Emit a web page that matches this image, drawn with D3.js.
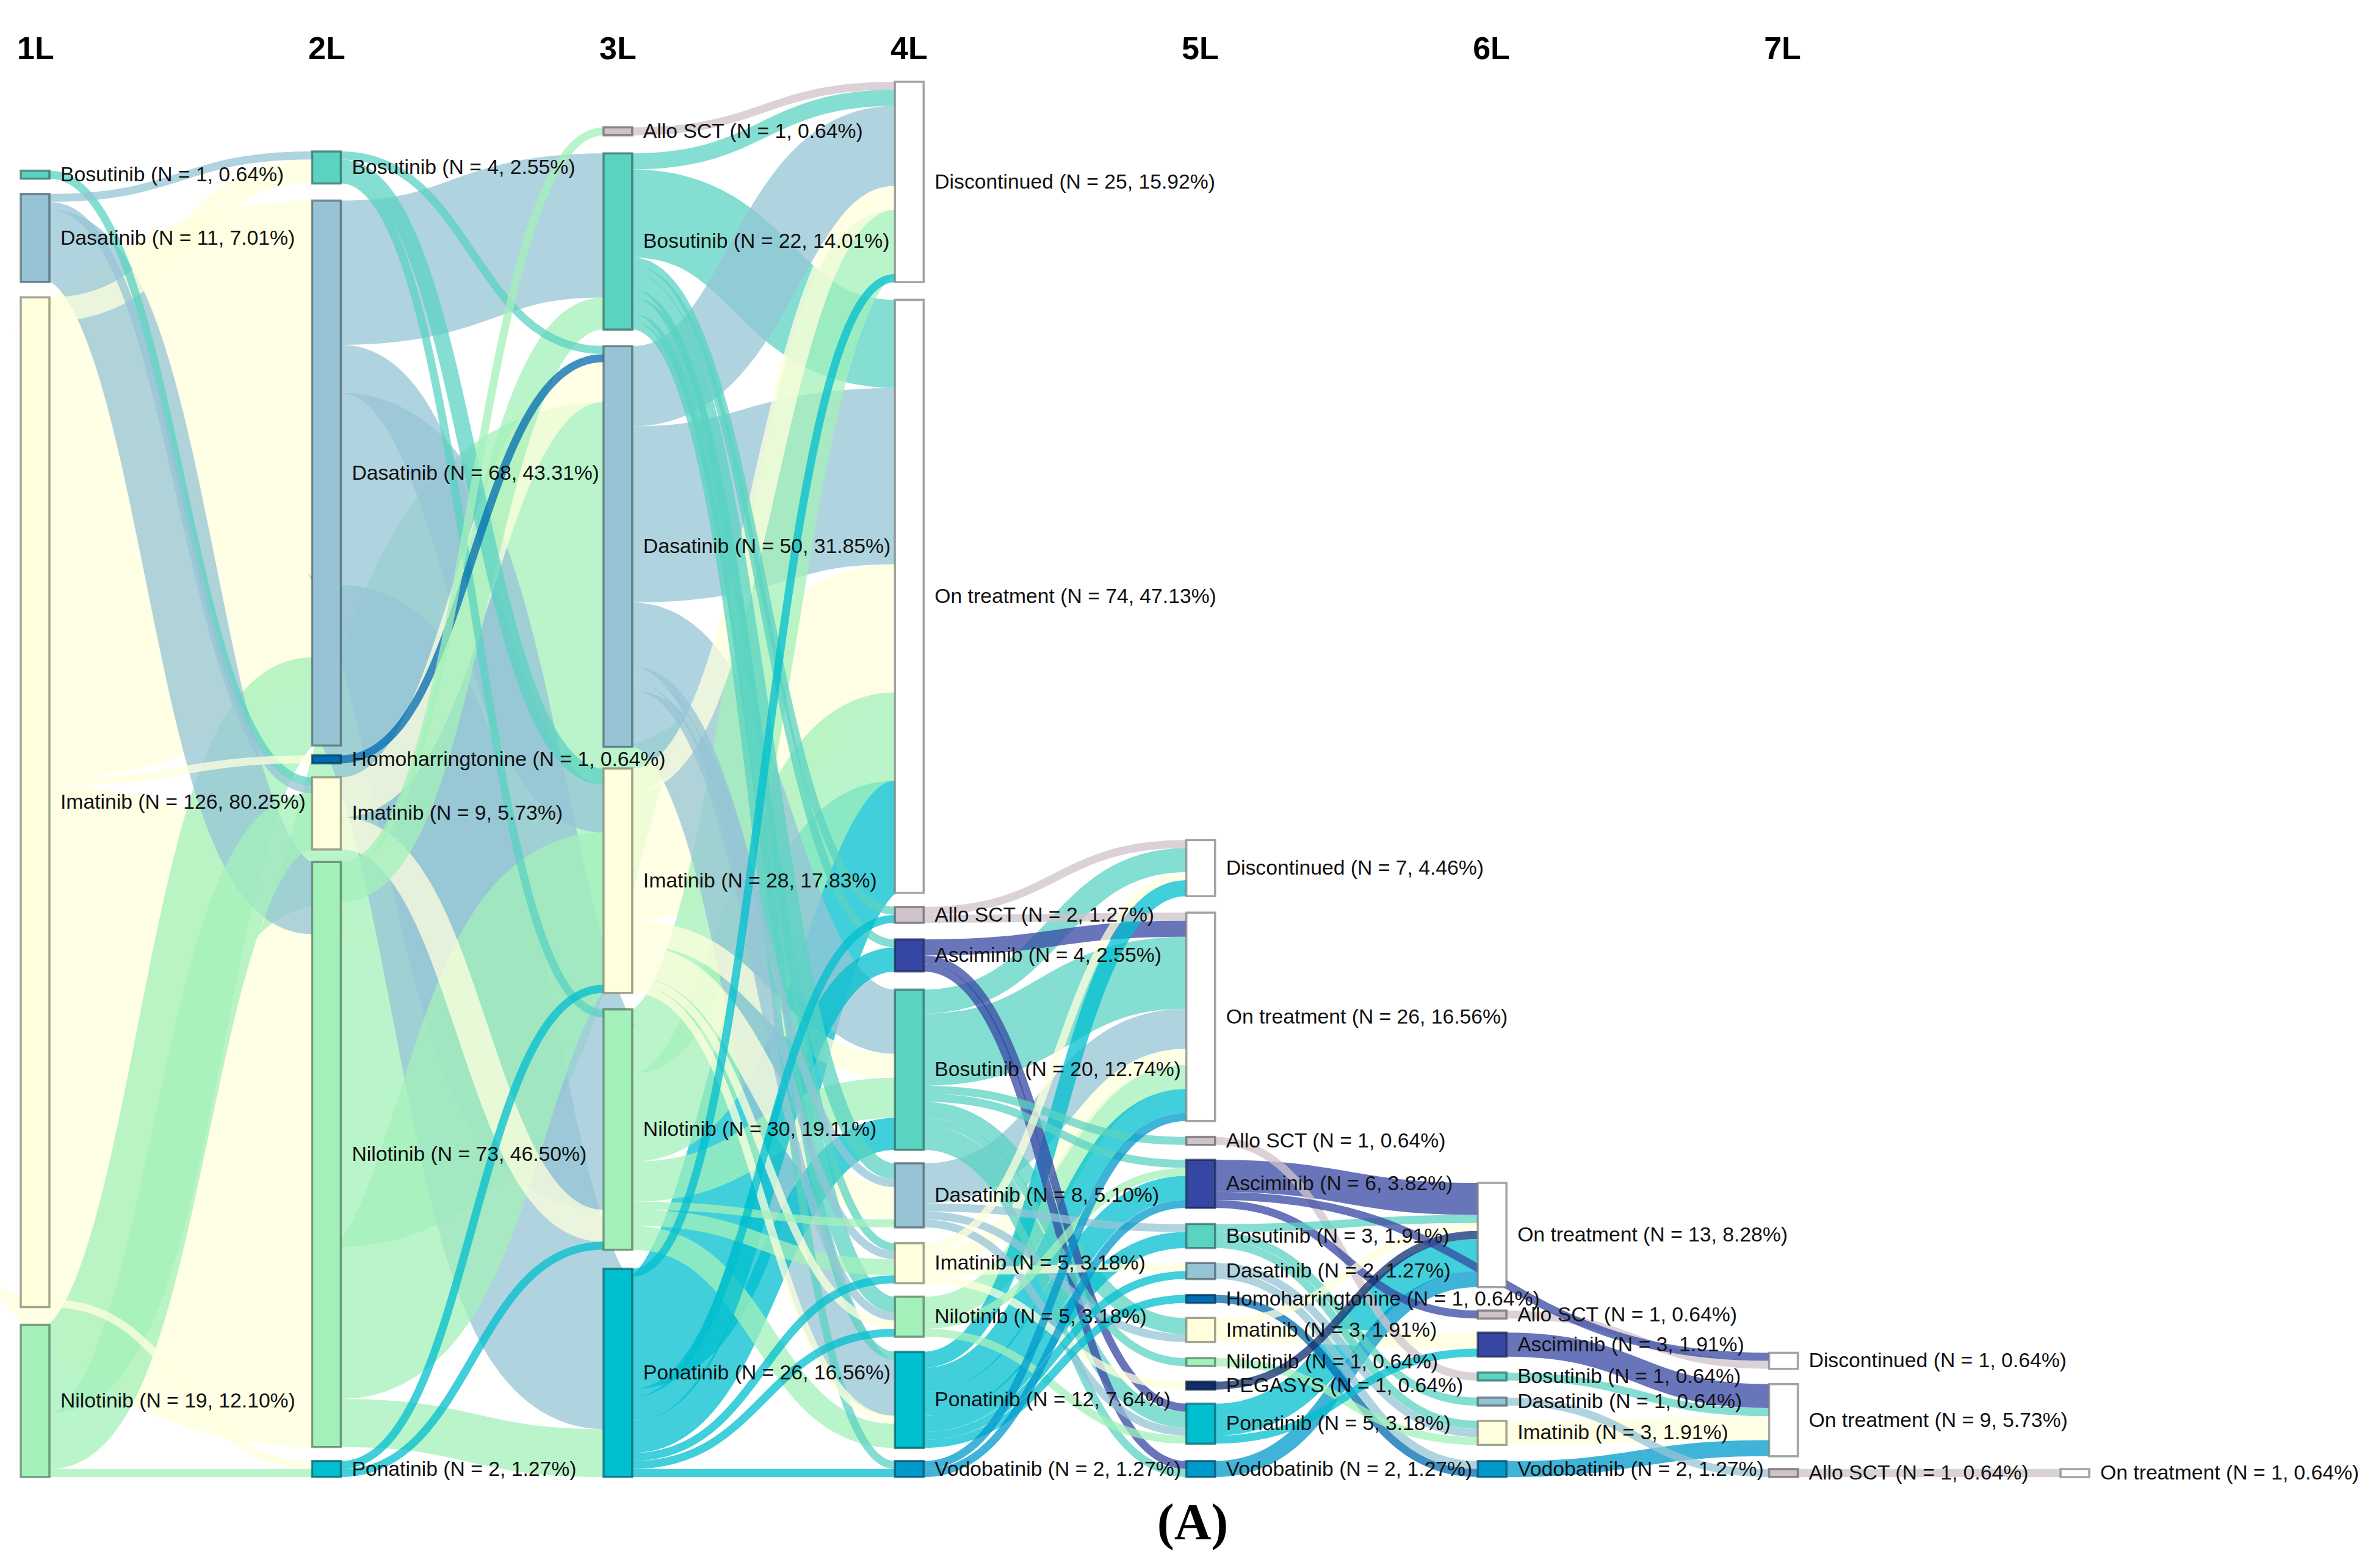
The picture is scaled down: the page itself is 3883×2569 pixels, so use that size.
<!DOCTYPE html>
<html><head><meta charset="utf-8">
<style>html,body{margin:0;padding:0;background:#fff}svg{display:block}</style>
<script src="https://cdn.jsdelivr.net/npm/d3@7/dist/d3.min.js"></script>
</head><body><svg id="c" width="3883" height="2569"></svg>
<script>
const totalPatients = 157;
const lineHeaders = ["1L","2L","3L","4L","5L","6L","7L"];
const col1 = [["Bosutinib",1],["Dasatinib",11],["Imatinib",126],["Nilotinib",19]];
const col2 = [["Bosutinib",4],["Dasatinib",68],["Homoharringtonine",1],["Imatinib",9],["Nilotinib",73],["Ponatinib",2]];
const col3 = [["Allo SCT",1],["Bosutinib",22],["Dasatinib",50],["Imatinib",28],["Nilotinib",30],["Ponatinib",26]];
const col4 = [["Discontinued",25],["On treatment",74],["Allo SCT",2],["Asciminib",4],["Bosutinib",20],["Dasatinib",8],["Imatinib",5],["Nilotinib",5],["Ponatinib",12],["Vodobatinib",2]];
const col5 = [["Discontinued",7],["On treatment",26],["Allo SCT",1],["Asciminib",6],["Bosutinib",3],["Dasatinib",2],["Homoharringtonine",1],["Imatinib",3],["Nilotinib",1],["PEGASYS",1],["Ponatinib",5],["Vodobatinib",2]];
const col6 = [["On treatment",13],["Allo SCT",1],["Asciminib",3],["Bosutinib",1],["Dasatinib",1],["Imatinib",3],["Vodobatinib",2]];
const col7 = [["Discontinued",1],["On treatment",9],["Allo SCT",1]];
const col8 = [["On treatment",1]];
const columns = [col1,col2,col3,col4,col5,col6,col7,col8];

const flows1to2 = [["Bosutinib","Imatinib",1],["Dasatinib","Bosutinib",1],["Dasatinib","Imatinib",1],["Dasatinib","Nilotinib",9],
 ["Imatinib","Bosutinib",3],["Imatinib","Dasatinib",57],["Imatinib","Homoharringtonine",1],["Imatinib","Nilotinib",64],["Imatinib","Ponatinib",1],
 ["Nilotinib","Dasatinib",11],["Nilotinib","Imatinib",7],["Nilotinib","Ponatinib",1]];
const flows2to3 = [["Bosutinib","Dasatinib",1],["Bosutinib","Imatinib",2],["Bosutinib","Nilotinib",1],
 ["Dasatinib","Bosutinib",18],["Dasatinib","Imatinib",6],["Dasatinib","Nilotinib",24],["Dasatinib","Ponatinib",20],
 ["Homoharringtonine","Dasatinib",1],["Imatinib","Dasatinib",5],["Imatinib","Nilotinib",4],
 ["Nilotinib","Allo SCT",1],["Nilotinib","Bosutinib",4],["Nilotinib","Dasatinib",43],["Nilotinib","Imatinib",19],["Nilotinib","Ponatinib",6],
 ["Ponatinib","Imatinib",1],["Ponatinib","Nilotinib",1]];
const flows3to4 = [["Allo SCT","Discontinued",1],
 ["Bosutinib","Discontinued",2],["Bosutinib","On treatment",11],["Bosutinib","Allo SCT",1],["Bosutinib","Asciminib",1],["Bosutinib","Dasatinib",2],["Bosutinib","Imatinib",1],["Bosutinib","Nilotinib",2],["Bosutinib","Ponatinib",1],["Bosutinib","Vodobatinib",1],
 ["Dasatinib","Discontinued",10],["Dasatinib","On treatment",22],["Dasatinib","Bosutinib",8],["Dasatinib","Dasatinib",1],["Dasatinib","Imatinib",1],["Dasatinib","Nilotinib",1],["Dasatinib","Ponatinib",7],
 ["Imatinib","Discontinued",3],["Imatinib","On treatment",16],["Imatinib","Bosutinib",3],["Imatinib","Dasatinib",4],["Imatinib","Nilotinib",1],["Imatinib","Ponatinib",1],
 ["Nilotinib","Discontinued",8],["Nilotinib","On treatment",11],["Nilotinib","Bosutinib",5],["Nilotinib","Dasatinib",1],["Nilotinib","Imatinib",2],["Nilotinib","Ponatinib",3],
 ["Ponatinib","Discontinued",1],["Ponatinib","On treatment",14],["Ponatinib","Allo SCT",1],["Ponatinib","Asciminib",3],["Ponatinib","Bosutinib",4],["Ponatinib","Imatinib",1],["Ponatinib","Nilotinib",1],["Ponatinib","Vodobatinib",1]];
const flows4to5 = [["Allo SCT","Discontinued",1],["Allo SCT","On treatment",1],
 ["Asciminib","On treatment",2],["Asciminib","Ponatinib",1],["Asciminib","Vodobatinib",1],
 ["Bosutinib","Discontinued",3],["Bosutinib","On treatment",9],["Bosutinib","Allo SCT",1],["Bosutinib","Asciminib",1],["Bosutinib","Imatinib",2],["Bosutinib","Nilotinib",1],["Bosutinib","Ponatinib",2],["Bosutinib","Vodobatinib",1],
 ["Dasatinib","On treatment",5],["Dasatinib","Bosutinib",1],["Dasatinib","Imatinib",1],["Dasatinib","Ponatinib",1],
 ["Imatinib","Discontinued",1],["Imatinib","On treatment",2],["Imatinib","Dasatinib",1],["Imatinib","PEGASYS",1],
 ["Nilotinib","On treatment",3],["Nilotinib","Asciminib",1],["Nilotinib","Ponatinib",1],
 ["Ponatinib","Discontinued",2],["Ponatinib","On treatment",3],["Ponatinib","Asciminib",3],["Ponatinib","Bosutinib",2],["Ponatinib","Dasatinib",1],["Ponatinib","Homoharringtonine",1],
 ["Vodobatinib","On treatment",1],["Vodobatinib","Asciminib",1]];
const flows5to6 = [["Allo SCT","Bosutinib",1],
 ["Asciminib","On treatment",4],["Asciminib","Allo SCT",1],
 ["Bosutinib","On treatment",1],["Bosutinib","Dasatinib",1],["Bosutinib","Imatinib",1],
 ["Dasatinib","Imatinib",1],["Dasatinib","Vodobatinib",1],["Homoharringtonine","Vodobatinib",1],
 ["Imatinib","On treatment",1],["Imatinib","Asciminib",2],["Nilotinib","Imatinib",1],["PEGASYS","On treatment",1],
 ["Ponatinib","On treatment",4],["Ponatinib","Asciminib",1],["Vodobatinib","On treatment",2]];
const flows6to7 = [["Allo SCT","Discontinued",1],["Asciminib","On treatment",3],["Bosutinib","On treatment",1],["Dasatinib","Allo SCT",1],["Imatinib","On treatment",3],["Vodobatinib","On treatment",2]];
const flows7to8 = [["Allo SCT","On treatment",1]];
const flows5to7 = [["Asciminib","Discontinued",1]];

const drugColors = {"Bosutinib":"#5bd3c1","Dasatinib":"#96c4d5","Imatinib":"#ffffdc","Nilotinib":"#a3f0ba","Ponatinib":"#00bfcf","Asciminib":"#3647a3","Allo SCT":"#cfc3cb","Homoharringtonine":"#006bb0","PEGASYS":"#0e2f6e","Vodobatinib":"#0099cc","Discontinued":"#ffffff","On treatment":"#ffffff"};

// Layout constants (pixels)
const K = 13.13, BOTTOM = 2420, NODE_W = 47, LINK_OPACITY = 0.75;
const gapsAbove = [
 [25,25,29],
 [28,16,23,20.5,23],
 [29.5,27,35.5,27,31],
 [29,23,27,29.7,22,25.8,22,24.6,21.5],
 [27,26,24.5,26.4,24.5,26,24.5,26.4,25.4,23,28.4],
 [38.4,23,26,28,25,26.4],
 [25,21],
 []];

const svg = d3.select("#c");
const xCol = d3.scaleLinear().domain([0,7]).range([34,3376]);
const yUnits = d3.scaleLinear().domain([0,1]).range([0,K]);

const nodes = [];
const nodeId = (c,name)=>c+"|"+name;
const byId = new Map();
columns.forEach((col,c)=>col.forEach(([name,n],i)=>{
  const nd={c,i,name,n,inV:0,outV:0,inL:[],outL:[]};
  nodes.push(nd); byId.set(nodeId(c,name),nd);
}));
const stages=[[0,1,flows1to2],[1,2,flows2to3],[2,3,flows3to4],[3,4,flows4to5],[4,5,flows5to6],[5,6,flows6to7],[6,7,flows7to8],[4,6,flows5to7]];
const links=[];
stages.forEach(([a,b,fl])=>fl.forEach(([s,t,v])=>{
  const l={s:byId.get(nodeId(a,s)),t:byId.get(nodeId(b,t)),v};
  links.push(l); l.s.outL.push(l); l.t.inL.push(l); l.s.outV+=v; l.t.inV+=v;
}));
nodes.forEach(n=>{n.h=yUnits(Math.max(n.inV,n.outV,1));});
columns.forEach((col,c)=>{
  let y=BOTTOM;
  for(let i=col.length-1;i>=0;i--){
    const n=byId.get(nodeId(c,col[i][0]));
    n.y1=y; n.y0=y-n.h;
    y=n.y0-(i>0?gapsAbove[c][i-1]:0);
    n.x0=xCol(c); n.x1=n.x0+NODE_W;
  }
});
nodes.forEach(n=>{
  let sy=n.y0;
  n.outL.sort((a,b)=>((a.t.y0-n.y0)/(a.t.c-n.c))-((b.t.y0-n.y0)/(b.t.c-n.c)));
  n.outL.forEach(l=>{l.sy=sy+yUnits(l.v)/2; sy+=yUnits(l.v);});
  let ty=n.y0;
  n.inL.sort((a,b)=>a.s.y0-b.s.y0);
  n.inL.forEach(l=>{l.ty=ty+yUnits(l.v)/2; ty+=yUnits(l.v);});
});

const linkGen = d3.linkHorizontal().source(l=>[l.s.x1,l.sy]).target(l=>[l.t.x0,l.ty]);
const drawOrder = links.slice().sort((a,b)=>b.v-a.v);
svg.append("g").attr("fill","none").selectAll("path").data(drawOrder).join("path")
  .attr("d",linkGen)
  .attr("stroke",l=>drugColors[l.s.name])
  .attr("stroke-opacity",LINK_OPACITY)
  .attr("stroke-width",l=>yUnits(l.v));

svg.append("g").selectAll("rect").data(nodes).join("rect")
  .attr("x",n=>n.x0).attr("y",n=>n.y0).attr("width",NODE_W).attr("height",n=>n.h)
  .attr("fill",n=>drugColors[n.name])
  .attr("stroke",n=>d3.rgb(drugColors[n.name]).darker(2))
  .attr("stroke-opacity",0.7).attr("stroke-width",3.5);

svg.append("g").attr("font-family","'Liberation Sans',Arial,sans-serif").attr("font-size",33.7).attr("fill","#111")
  .selectAll("text").data(nodes).join("text")
  .attr("x",n=>n.x1+18).attr("y",n=>(n.y0+n.y1)/2).attr("dy","0.32em")
  .text(n=>`${n.name} (N = ${n.n}, ${(n.n/totalPatients*100).toFixed(2)}%)`);

svg.append("g").attr("font-family","'Liberation Sans',Arial,sans-serif").attr("font-size",52).attr("font-weight",700).attr("fill","#000")
  .selectAll("text").data(lineHeaders).join("text")
  .attr("x",(d,i)=>xCol(i)-6-i*0.4).attr("y",97).text(d=>d);

svg.append("text").attr("x",1954).attr("y",2522).attr("text-anchor","middle")
  .attr("font-family","'Liberation Serif','Times New Roman',serif").attr("font-weight",700).attr("font-size",84).attr("fill","#000").text("(A)");
</script></body></html>
